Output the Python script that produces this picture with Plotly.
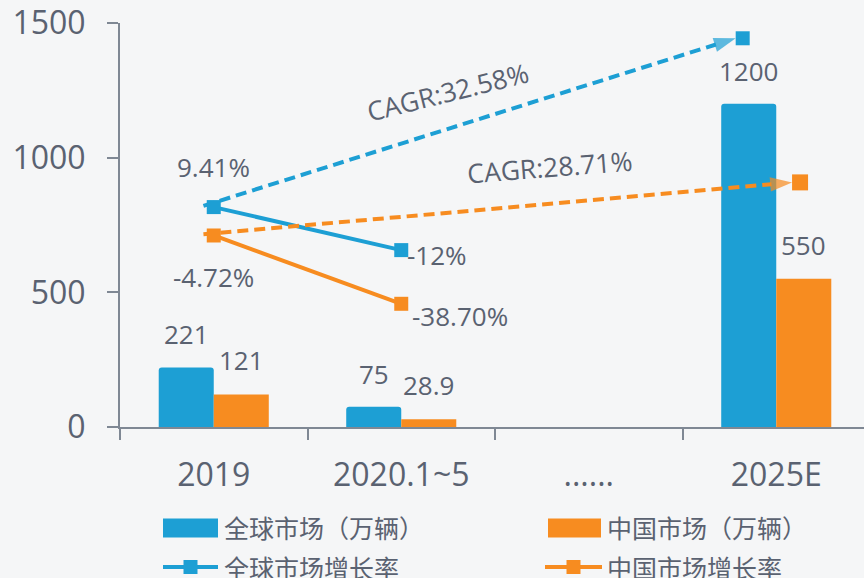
import plotly.graph_objects as go

# ---- data ----
categories = ["2019", "2020.1~5", "......", "2025E"]
global_sales = [221, 75, None, 1200]        # 全球市场（万辆）
china_sales = [121, 28.9, None, 550]        # 中国市场（万辆）
global_growth = [9.41, -12.0]               # 全球市场增长率 (%)
china_growth = [-4.72, -38.70]              # 中国市场增长率 (%)
cagr_labels = ["CAGR:32.58%", "CAGR:28.71%"]
y_ticks = [0, 500, 1000, 1500]

# ---- style ----
BLUE = "#1d9fd4"
ORANGE = "#f78c20"
TEXT = "#5a6271"
AXIS = "#7f8894"
BG = "#f5f6f7"
FONT = "Open Sans, Noto Sans CJK SC, sans-serif"

W, H = 864, 578
ML, MT, MB = 120, 23, 151
PLOT_W = W - ML
PLOT_H = H - MT - MB
CAT_PX = 187.5
X_RANGE = [-0.5, -0.5 + PLOT_W / CAT_PX]
Y2_RANGE = [-100, 101]
BARGAP = 0.413
BAR_OFF = (1 - BARGAP) / 4  # centre offset of each bar inside a group


def px_x(px):
    return (px - ML) / PLOT_W


def px_y(py):
    return (MT + PLOT_H - py) / PLOT_H


xs = list(range(len(categories)))

fig = go.Figure()

fig.add_trace(go.Bar(x=xs, y=global_sales, name="全球市场（万辆）",
                     marker=dict(color=BLUE, cornerradius=3, line_width=0)))
fig.add_trace(go.Bar(x=xs, y=china_sales, name="中国市场（万辆）",
                     marker=dict(color=ORANGE, line_width=0)))

# CAGR arrows: from the 2019 growth point towards 2025E
cagr_end_x = [2.821, 3.127]
cagr_end_rate = [93.4, 21.7]
cagr_sq = [14, 16]
start_rates = [global_growth[0], china_growth[0]]
colors = [BLUE, ORANGE]
growth_sets = [global_growth, china_growth]
names = ["全球市场增长率", "中国市场增长率"]

for i in range(2):
    tip_x = cagr_end_x[i] - (cagr_sq[i] / 2) / CAT_PX
    fig.add_trace(go.Scatter(
        x=[-0.055, tip_x], y=[start_rates[i] + 0.6, cagr_end_rate[i]], yaxis="y2",
        mode="lines+markers", showlegend=False, hoverinfo="skip",
        line=dict(color=colors[i], width=4, dash="11px,6px"),
        marker=dict(symbol=["circle", "arrow"], size=[0, 23], color=colors[i],
                    angleref="previous", line_width=0)))
    fig.add_trace(go.Scatter(
        x=[cagr_end_x[i]], y=[cagr_end_rate[i]], yaxis="y2", mode="markers",
        showlegend=False, hoverinfo="skip",
        marker=dict(symbol="square", size=cagr_sq[i], color=colors[i], line_width=0)))
    fig.add_trace(go.Scatter(
        x=xs[:2], y=growth_sets[i], yaxis="y2", name=names[i],
        mode="lines+markers", line=dict(color=colors[i], width=4),
        marker=dict(symbol="square", size=14, color=colors[i], line_width=0)))

ann = []
# bar value labels
for i, v in enumerate(global_sales):
    if v is not None:
        ann.append(dict(x=xs[i] - BAR_OFF, y=v, text=f"{v:g}", showarrow=False,
                        yanchor="middle", yshift=33, font=dict(size=26, color=TEXT)))
for i, v in enumerate(china_sales):
    if v is not None:
        ann.append(dict(x=xs[i] + BAR_OFF, y=v, text=f"{v:g}", showarrow=False,
                        yanchor="middle", yshift=34, font=dict(size=26, color=TEXT)))


def pct(v):
    return f"{v:g}%" if abs(v - round(v)) < 1e-9 else f"{v:.2f}%"


# growth labels
ann.append(dict(x=xs[0], y=global_growth[0], yref="y2", text=pct(global_growth[0]),
                showarrow=False, yanchor="middle", yshift=40, font=dict(size=26, color=TEXT)))
ann.append(dict(x=xs[0], y=china_growth[0], yref="y2", text=pct(china_growth[0]),
                showarrow=False, yanchor="middle", yshift=-42, font=dict(size=26, color=TEXT)))
ann.append(dict(x=xs[1], y=global_growth[1], yref="y2", text=pct(global_growth[1]),
                showarrow=False, xanchor="left", yanchor="middle", xshift=4, yshift=-5,
                font=dict(size=26, color=TEXT)))
ann.append(dict(x=xs[1], y=china_growth[1], yref="y2", text=pct(china_growth[1]),
                showarrow=False, xanchor="left", yanchor="middle", xshift=9, yshift=-12,
                font=dict(size=26, color=TEXT)))

# CAGR captions along the arrows
ann.append(dict(x=1.249, y=66.7, yref="y2", text=cagr_labels[0], textangle=-14,
                showarrow=False, font=dict(size=26.5, color=TEXT)))
ann.append(dict(x=1.793, y=29.4, yref="y2", text=cagr_labels[1], textangle=-4.5,
                showarrow=False, font=dict(size=26.5, color=TEXT)))

# ---- custom legend ----
shapes = []
legend_items = [
    ("bar", BLUE, "全球市场（万辆）", 163, 218, 222, 528),
    ("bar", ORANGE, "中国市场（万辆）", 548, 601, 605, 528),
    ("line", BLUE, "全球市场增长率", 163, 218, 222, 568),
    ("line", ORANGE, "中国市场增长率", 545, 602, 605, 568),
]
for kind, col, label, x0, x1, tx, ty in legend_items:
    if kind == "bar":
        shapes.append(dict(type="rect", xref="paper", yref="paper",
                           x0=px_x(x0), x1=px_x(x1), y0=px_y(ty + 9.5), y1=px_y(ty - 9.5),
                           fillcolor=col, line_width=0))
    else:
        shapes.append(dict(type="line", xref="paper", yref="paper",
                           x0=px_x(x0), x1=px_x(x1), y0=px_y(ty - 1), y1=px_y(ty - 1),
                           line=dict(color=col, width=4)))
        cx = (x0 + x1) / 2
        shapes.append(dict(type="rect", xref="paper", yref="paper",
                           x0=px_x(cx - 7), x1=px_x(cx + 7), y0=px_y(ty + 6), y1=px_y(ty - 8),
                           fillcolor=col, line_width=0))
    ann.append(dict(xref="paper", yref="paper", x=px_x(tx), y=px_y(ty), text=label,
                    xanchor="left", yanchor="middle", showarrow=False,
                    font=dict(size=25, color=TEXT)))

fig.update_layout(
    width=W, height=H,
    margin=dict(l=ML, r=0, t=MT, b=MB, pad=0),
    paper_bgcolor=BG, plot_bgcolor=BG,
    font=dict(family=FONT, color=TEXT),
    barmode="group", bargap=BARGAP, bargroupgap=0,
    showlegend=False,
    xaxis=dict(range=X_RANGE, tickmode="array", tickvals=xs, ticktext=categories,
               showgrid=False, zeroline=False, showline=True, linecolor=AXIS, linewidth=2,
               ticks="outside", ticklen=11, tickcolor="rgba(0,0,0,0)",
               ticklabelstandoff=8,
               minor=dict(tickmode="array", tickvals=[-0.5, 0.5, 1.5, 2.5, 3.5],
                          ticks="outside", ticklen=11, tickwidth=2, tickcolor=AXIS),
               tickfont=dict(size=32, color=TEXT)),
    yaxis=dict(range=[0, 1500], tickmode="array", tickvals=y_ticks,
               showgrid=False, zeroline=False, showline=True, linecolor=AXIS, linewidth=2,
               ticks="outside", ticklen=11, tickwidth=2, tickcolor=AXIS,
               ticklabelstandoff=15, tickfont=dict(size=32, color=TEXT)),
    yaxis2=dict(range=Y2_RANGE, overlaying="y", side="right", visible=False),
    annotations=ann,
    shapes=shapes,
)

fig.write_html("out.html")
